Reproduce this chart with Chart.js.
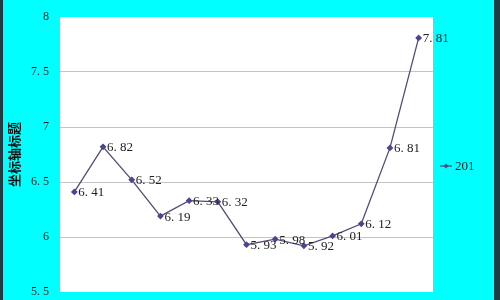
<!DOCTYPE html>
<html>
<head>
<meta charset="utf-8">
<script src="https://cdn.jsdelivr.net/npm/chart.js@4"></script>
<style>
  html, body { margin: 0; padding: 0; background: #00ffff; }
  #wrap { width: 500px; height: 300px; position: relative; }
</style>
</head>
<body>
<div id="wrap"><canvas id="chart"></canvas></div>
<script>
const categories = ['1', '2', '3', '4', '5', '6', '7', '8', '9', '10', '11', '12', '13'];
const seriesName = '201';
const values = [6.41, 6.82, 6.52, 6.19, 6.33, 6.32, 5.93, 5.98, 5.92, 6.01, 6.12, 6.81, 7.81];
const yTicks = [5.5, 6, 6.5, 7, 7.5, 8];
const yTitle = '坐标轴标题';

const lineColor = '#5b4a72';
const pointColor = '#4a4690';
const serif = '"Liberation Serif", "DejaVu Serif", serif';

// chinese-style number: "6. 41"
function fmt(v) {
  const s = String(v);
  return s.includes('.') ? s.replace('.', '. ') : s;
}

const decor = {
  id: 'decor',
  beforeDraw(chart) {
    const { ctx, chartArea: a, width, height } = chart;
    ctx.save();
    ctx.fillStyle = '#00ffff';
    ctx.fillRect(0, 0, width, height);
    ctx.fillStyle = '#ffffff';
    ctx.fillRect(a.left, a.top, a.right - a.left, a.bottom - a.top);
    ctx.fillStyle = '#1d3b42';
    ctx.fillRect(0, 0, 3, height);
    ctx.fillRect(494, 0, 6, height);
    ctx.restore();
  },
  afterDatasetsDraw(chart) {
    const { ctx } = chart;
    const meta = chart.getDatasetMeta(0);
    ctx.save();
    ctx.font = '13px ' + serif;
    ctx.fillStyle = '#222222';
    ctx.textAlign = 'left';
    ctx.textBaseline = 'middle';
    meta.data.forEach((pt, i) => {
      ctx.fillText(fmt(values[i]), pt.x + 4, pt.y + 1);
    });

    // legend
    const ly = 166;
    ctx.strokeStyle = lineColor;
    ctx.lineWidth = 1.3;
    ctx.beginPath();
    ctx.moveTo(440, ly);
    ctx.lineTo(452, ly);
    ctx.stroke();
    ctx.fillStyle = pointColor;
    ctx.beginPath();
    ctx.moveTo(446, ly - 2.5);
    ctx.lineTo(448.5, ly);
    ctx.lineTo(446, ly + 2.5);
    ctx.lineTo(443.5, ly);
    ctx.closePath();
    ctx.fill();
    ctx.fillStyle = '#222222';
    ctx.fillText(seriesName, 455, ly + 1);
    ctx.restore();
  }
};

new Chart(document.getElementById('chart'), {
  type: 'line',
  data: {
    labels: categories,
    datasets: [{
      label: seriesName,
      data: values,
      borderColor: lineColor,
      borderWidth: 1.3,
      pointStyle: 'rectRot',
      pointRadius: 2.5,
      pointBackgroundColor: pointColor,
      pointBorderColor: pointColor,
      tension: 0,
      fill: false
    }]
  },
  options: {
    responsive: true,
    maintainAspectRatio: false,
    animation: false,
    layout: { padding: { left: 0, right: 67, top: 17, bottom: 8 } },
    plugins: {
      legend: { display: false },
      tooltip: { enabled: false }
    },
    scales: {
      x: {
        type: 'category',
        offset: true,
        display: false
      },
      y: {
        min: 5.5,
        max: 8,
        afterBuildTicks: scale => { scale.ticks = yTicks.map(v => ({ value: v })); },
        afterFit: scale => {
          scale.width = 60;
          scale.paddingTop = 0;
          scale.paddingBottom = 0;
        },
        border: { display: false },
        grid: {
          drawTicks: false,
          color: c => (c.tick.value === 5.5 || c.tick.value === 8) ? 'rgba(0,0,0,0)' : '#c4c4c4',
          lineWidth: 1
        },
        ticks: {
          padding: 11,
          color: '#222222',
          font: { family: serif, size: 12 },
          callback: v => fmt(v)
        },
        title: {
          display: true,
          text: yTitle,
          color: '#111111',
          font: { family: '"Noto Sans CJK SC", sans-serif', size: 13, weight: 'bold' },
          padding: { top: 6, bottom: 0 }
        }
      }
    }
  },
  plugins: [decor]
});
</script>
</body>
</html>
